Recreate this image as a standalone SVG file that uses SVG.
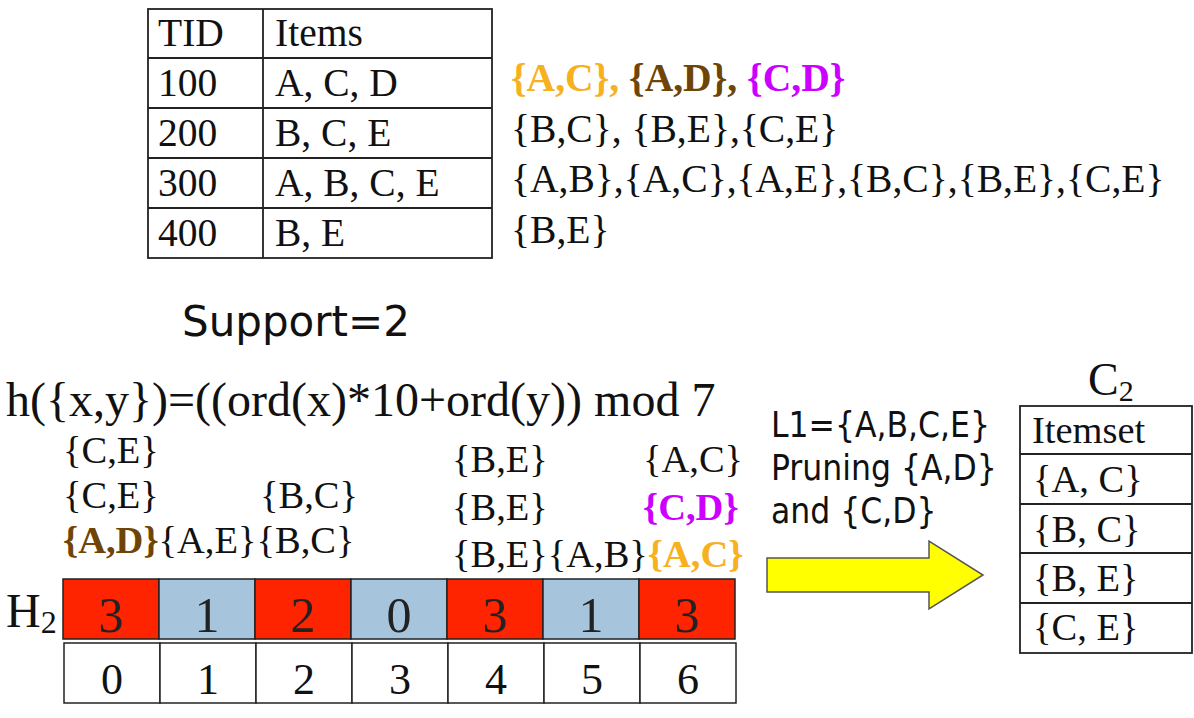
<svg xmlns="http://www.w3.org/2000/svg" width="1194" height="718" viewBox="0 0 1194 718">
<style>
.serif{font-family:"Liberation Serif","Times New Roman",serif;fill:#111}
.sans{font-family:"DejaVu Sans",Verdana,sans-serif;fill:#111}
.cond{font-family:"DejaVu Sans Condensed","DejaVu Sans",sans-serif;fill:#111}
.grid{fill:none;stroke:#222;stroke-width:1.8}
.red{fill:#FF2400;stroke:#222;stroke-width:1.5}
.blue{fill:#A6C4DB;stroke:#222;stroke-width:1.5}
.white{fill:#fff;stroke:#222;stroke-width:1.5}
.b{font-weight:bold}
.org{fill:#F7B01E}
.brn{fill:#6E4506}
.mag{fill:#CC00FF}
</style>
<rect width="1194" height="718" fill="#fff"/>

<g id="transactions-table">
<rect class="grid" x="148" y="9" width="344" height="249"/>
<path class="grid" d="M148 58H492M148 108H492M148 158H492M148 208H492M263 9V258"/>
<g class="serif" font-size="39.5">
<text x="158" y="46">TID</text><text x="275" y="46">Items</text>
<text x="158" y="96">100</text><text x="275" y="96">A, C, D</text>
<text x="158" y="146">200</text><text x="275" y="146">B, C, E</text>
<text x="158" y="196">300</text><text x="275" y="196">A, B, C, E</text>
<text x="158" y="246">400</text><text x="275" y="246">B, E</text>
</g>
</g>

<g id="pair-list" class="serif" font-size="39.6">
<text x="511" y="91" class="b"><tspan class="org">{A,C}, </tspan><tspan class="brn">{A,D}, </tspan><tspan class="mag">{C,D}</tspan></text>
<text x="511" y="142">{B,C}, {B,E},{C,E}</text>
<text x="511" y="192">{A,B},{A,C},{A,E},{B,C},{B,E},{C,E}</text>
<text x="511" y="243">{B,E}</text>
</g>

<g id="support"><text class="sans" x="182" y="336" font-size="42">Support=2</text></g>

<g id="hash-function"><text class="serif" x="6" y="416" font-size="48">h({x,y})=((ord(x)*10+ord(y)) mod 7</text></g>

<g id="bucket-contents" class="serif" font-size="38.5">
<text x="63" y="463">{C,E}</text>
<text x="63" y="508">{C,E}</text>
<text x="260" y="508">{B,C}</text>
<text x="63" y="553"><tspan class="b brn">{A,D}</tspan>{A,E}{B,C}</text>
<text x="452" y="472">{B,E}</text>
<text x="643" y="472">{A,C}</text>
<text x="452" y="520">{B,E}</text>
<text x="643" y="520" class="b mag">{C,D}</text>
<text x="452" y="567">{B,E}{A,B}<tspan class="b org">{A,C}</tspan></text>
</g>

<g id="h2-label" class="serif"><text x="6" y="627" font-size="48">H<tspan font-size="32" dy="6">2</tspan></text></g>

<g id="h2-counts">
<rect class="red" x="63" y="579" width="96" height="60"/>
<rect class="blue" x="159" y="579" width="96" height="60"/>
<rect class="red" x="255" y="579" width="96" height="60"/>
<rect class="blue" x="351" y="579" width="96" height="60"/>
<rect class="red" x="447" y="579" width="96" height="60"/>
<rect class="blue" x="543" y="579" width="96" height="60"/>
<rect class="red" x="639" y="579" width="96" height="60"/>
<g class="serif" font-size="50" text-anchor="middle" style="fill:#222">
<text x="111" y="632">3</text><text x="207" y="632">1</text><text x="303" y="632">2</text><text x="399" y="632">0</text><text x="495" y="632">3</text><text x="591" y="632">1</text><text x="687" y="632">3</text>
</g>
</g>

<g id="bucket-index">
<rect class="white" x="64" y="643" width="96" height="60"/>
<rect class="white" x="160" y="643" width="96" height="60"/>
<rect class="white" x="256" y="643" width="96" height="60"/>
<rect class="white" x="352" y="643" width="96" height="60"/>
<rect class="white" x="448" y="643" width="96" height="60"/>
<rect class="white" x="544" y="643" width="96" height="60"/>
<rect class="white" x="640" y="643" width="96" height="60"/>
<g class="serif" font-size="44" text-anchor="middle">
<text x="112" y="694">0</text><text x="208" y="694">1</text><text x="304" y="694">2</text><text x="400" y="694">3</text><text x="496" y="694">4</text><text x="592" y="694">5</text><text x="688" y="694">6</text>
</g>
</g>

<g id="pruning-note" class="cond" font-size="35">
<text x="771" y="437">L1={A,B,C,E}</text>
<text x="771" y="480">Pruning {A,D}</text>
<text x="771" y="523">and {C,D}</text>
</g>

<g id="connectors">
<path d="M767 558H929V541L983 575L929 609V592H767Z" fill="#FFFF00" stroke="#555" stroke-width="1.5"/>
</g>

<g id="c2-table">
<text class="serif" x="1088" y="395" font-size="46">C<tspan font-size="30" dy="6">2</tspan></text>
<rect class="grid" x="1020" y="406" width="172" height="247"/>
<path class="grid" d="M1020 454H1192M1020 504H1192M1020 553H1192M1020 603H1192"/>
<g class="serif" font-size="38.5">
<text x="1032" y="443">Itemset</text>
<text x="1033" y="492">{A, C}</text>
<text x="1033" y="542">{B, C}</text>
<text x="1033" y="591">{B, E}</text>
<text x="1033" y="640">{C, E}</text>
</g>
</g>
</svg>
